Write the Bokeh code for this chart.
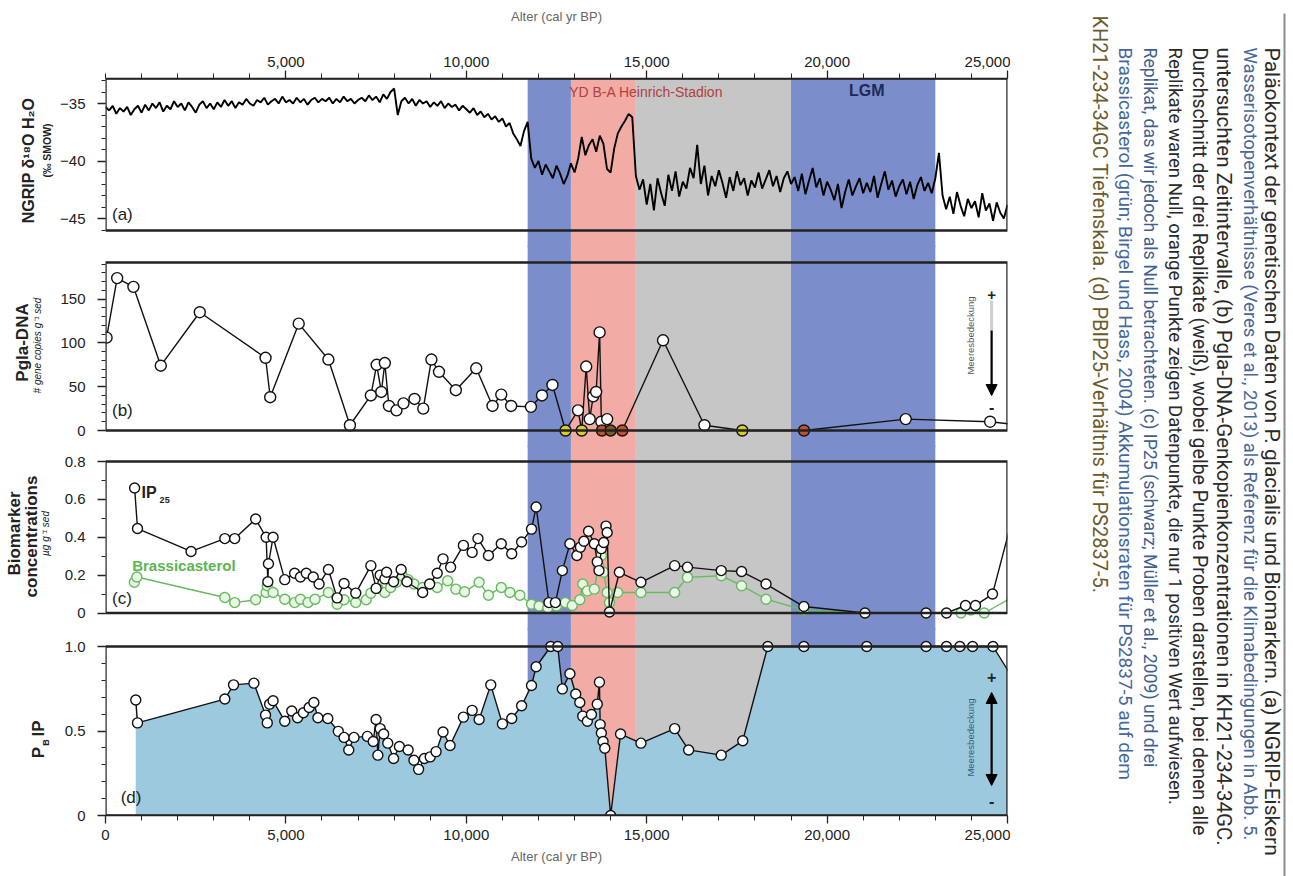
import math
from bokeh.plotting import figure
from bokeh.layouts import column, row
from bokeh.models import (Range1d, Label, FixedTicker, NumeralTickFormatter,
                          CustomJSTickFormatter, Arrow, NormalHead, ColumnDataSource)
from bokeh.embed import file_html
from bokeh.resources import INLINE

# ---------------- data ----------------
band_start = [11700, 12900, 14700, 19000]
band_end = [12900, 14700, 19000, 23000]
band_color = ["#7b8ecb", "#f2aca5", "#c6c6c6", "#7b8ecb"]

# NGRIP d18O, 100-yr steps from 0 to 25000 yr BP
ngrip_d18o = [
    -35.3, -35.6, -35.2, -35.9, -35.4, -35.7, -35.3, -36.0, -35.5, -35.2, -35.8,
    -35.1, -35.6, -35.0, -35.4, -34.9, -35.7, -35.2, -35.5, -34.8, -35.3,
    -35.0, -35.6, -34.9, -35.3, -35.8, -35.1, -34.8, -35.4, -35.0, -35.5,
    -34.9, -35.3, -34.7, -35.2, -34.8, -35.4, -34.9, -35.1, -34.6, -35.0,
    -35.2, -34.7, -34.9, -34.5, -35.1, -34.8, -34.6, -35.0, -34.4, -34.9,
    -34.7, -35.0, -34.5, -34.9, -34.6, -35.1, -34.7, -34.5, -34.9, -34.6,
    -34.8, -34.5, -35.0, -34.6, -34.9, -34.4, -34.8, -34.6, -35.0, -34.7,
    -34.5, -34.8, -34.3, -34.7, -34.4, -34.9, -34.2, -34.6, -34.0, -33.7,
    -36.0, -34.8, -34.5, -35.0, -34.6, -35.2, -34.7, -35.0, -34.8, -35.3,
    -34.9, -35.2, -34.8, -35.4, -35.0, -35.3, -35.1, -35.6, -35.2, -35.5,
    -35.8, -35.4, -36.0, -35.7, -36.2, -35.9, -36.4, -36.1, -36.6, -36.3,
    -37.0, -36.7, -37.6, -38.1, -38.7, -37.4, -36.6, -39.8, -40.6, -40.0,
    -41.2, -40.3, -40.9, -41.5, -40.4, -41.1, -42.0, -41.3, -40.2, -41.0,
    -39.8, -37.9, -39.5, -38.6, -38.1, -39.2, -37.8, -38.5, -40.7, -41.0,
    -38.9, -37.6, -37.0, -36.5, -35.9, -36.2, -41.3, -42.5, -41.6, -43.8,
    -42.0, -44.3, -41.5, -42.8, -43.9, -41.2, -42.6, -40.9, -43.1, -41.8,
    -42.4, -40.6, -41.5, -38.6, -42.0, -40.4, -43.0, -41.3, -42.2, -40.8,
    -41.9, -43.2, -41.4, -42.6, -40.9, -42.1, -41.5, -43.0, -41.7, -42.3,
    -41.0, -42.4, -41.6, -40.8, -42.2, -41.3, -42.7, -41.5, -40.9, -42.0,
    -41.4, -42.6, -41.1, -42.9, -41.7, -40.6, -42.3, -41.5, -43.0, -41.8,
    -42.5, -43.4, -42.0, -44.1, -42.7, -41.6, -43.0, -42.2, -41.5, -42.8,
    -41.9, -42.7, -41.3, -43.2, -42.0, -40.9, -42.5, -41.7, -43.1, -42.2,
    -41.6, -42.9, -41.8, -43.3, -42.1, -41.4, -42.6, -41.9, -42.8, -41.5,
    -39.3, -43.0, -44.2, -43.1, -44.6, -42.7, -43.9, -44.8, -43.3, -44.1,
    -43.5, -44.9, -42.8, -44.3, -43.7, -45.2, -43.6, -44.5, -45.0, -43.8,
]
ngrip_age = [i * 100 for i in range(len(ngrip_d18o))]

# Pgla-DNA (gene copies per g sed); kind: w = white mean, y = all zero, o = one positive, d = dark
dna_age = [30, 323, 774, 1532, 2613, 4436, 4565, 5355, 6178, 6775, 7355, 7516, 7645,
           7742, 7855, 8065, 8259, 8565, 8807, 9033, 9243, 9710, 10275, 10727, 10969,
           11243, 11791, 12098, 12388, 12750, 13097, 13200, 13323, 13420, 13517, 13598,
           13695, 13743, 13760, 13904, 14000, 14323, 15453, 16600, 17650, 19360, 22179,
           24518, 25400]
dna_val = [106, 174, 164, 74, 135, 83, 38, 122, 81, 6, 40, 75, 44,
           77, 28, 23, 31, 36, 25, 81, 67, 46, 71, 28, 41,
           28, 27, 40, 52, 0, 23, 0, 73, 13, 39, 44,
           112, 10, 0, 13, 0, 0, 103, 6, 0, 0, 13,
           10, 6]
dna_kind = ["w", "w", "w", "w", "w", "w", "w", "w", "w", "w", "w", "w", "w",
            "w", "w", "w", "w", "w", "w", "w", "w", "w", "w", "w", "w",
            "w", "w", "w", "w", "y", "w", "y", "w", "w", "w", "w",
            "w", "w", "o", "w", "d", "o", "w", "w", "y", "o", "w",
            "w", "w"]
kind_color = {"w": "#ffffff", "y": "#d8cd2c", "o": "#c0532e", "d": "#7a5a26"}

# IP25 (black) and brassicasterol (green), ug/g sed
ip25_age = [807, 887, 2371, 3307, 3581, 4162, 4452, 4500, 4516, 4645, 4968, 5242, 5403,
            5565, 5758, 5920, 6178, 6420, 6613, 6936, 7355, 7500, 7613, 7742, 7790,
            7984, 8194, 8355, 8791, 8984, 9194, 9355, 9565, 9920, 10162, 10323, 10614,
            10969, 11259, 11533, 11807, 11936, 12291, 12469, 12662, 12872, 13065, 13162,
            13259, 13388, 13549, 13630, 13678, 13743, 13807, 13872, 13904, 13968, 14243,
            14840, 15775, 16130, 17066, 17630, 18307, 19356, 21050, 22743, 23308, 23836,
            24113, 24584, 25300]
ip25_val = [0.66, 0.446, 0.325, 0.393, 0.393, 0.496, 0.40, 0.165, 0.26, 0.40, 0.176, 0.21, 0.19,
            0.21, 0.19, 0.153, 0.23, 0.08, 0.156, 0.105, 0.25, 0.13, 0.20, 0.18, 0.215,
            0.165, 0.23, 0.165, 0.108, 0.153, 0.21, 0.286, 0.242, 0.357, 0.32, 0.393, 0.304,
            0.366, 0.313, 0.375, 0.443, 0.56, 0.055, 0.055, 0.224, 0.366, 0.304, 0.348,
            0.379, 0.432, 0.366, 0.27, 0.224, 0.34, 0.372, 0.459, 0.425, 0.005, 0.215,
            0.162, 0.25, 0.242, 0.224, 0.219, 0.153, 0.034, 0.0, 0.0, 0.0, 0.04,
            0.04, 0.10, 0.62]
brass_age = [800, 870, 3307, 3581, 4162, 4452, 4484, 4645, 4968, 5242, 5403, 5613, 5807,
             6178, 6420, 6613, 6936, 7226, 7355, 7549, 7742, 7903, 8065, 8226, 8388, 8549,
             8791, 9000, 9194, 9484, 9710, 9952, 10355, 10614, 10969, 11210, 11485, 11807,
             12017, 12259, 12501, 12743, 12936, 13146, 13227, 13355, 13549, 13662, 13743,
             13807, 13904, 13968, 14194, 14840, 15775, 16130, 17066, 17630, 18307, 19356,
             21050, 22743, 23711, 23985, 24356, 25300]
brass_val = [0.162, 0.19, 0.082, 0.055, 0.07, 0.108, 0.144, 0.108, 0.073, 0.055, 0.073, 0.055, 0.073,
             0.108, 0.046, 0.07, 0.055, 0.07, 0.105, 0.13, 0.108, 0.135, 0.162, 0.197, 0.176, 0.153,
             0.135, 0.153, 0.135, 0.17, 0.126, 0.112, 0.162, 0.094, 0.135, 0.108, 0.094, 0.046,
             0.037, 0.028, 0.037, 0.055, 0.04, 0.07, 0.153, 0.117, 0.126, 0.25, 0.304,
             0.215, 0.108, 0.055, 0.108, 0.108, 0.108, 0.188, 0.197, 0.144, 0.073, 0.016,
             0.0, 0.0, 0.0, 0.016, 0.0, 0.10]

# PBIP25 index
pbip_age = [839, 887, 3307, 3549, 4113, 4436, 4484, 4549, 4645, 4968, 5162, 5323, 5484,
            5645, 5775, 5887, 6162, 6452, 6613, 6742, 6887, 7259, 7420, 7500, 7549, 7613,
            7710, 7823, 7984, 8146, 8388, 8549, 8678, 8839, 9000, 9162, 9355, 9549, 9920,
            10162, 10355, 10678, 11001, 11259, 11533, 11807, 11936, 12340, 12533, 12662,
            12872, 13033, 13146, 13227, 13355, 13468, 13630, 13690, 13710, 13743, 13791,
            13839, 14001, 14275, 14840, 15775, 16162, 17066, 17662, 18356, 19356, 21098,
            22743, 23308, 23679, 24033, 24598, 25300]
pbip_val = [0.683, 0.548, 0.689, 0.773, 0.783, 0.594, 0.548, 0.659, 0.679, 0.558, 0.618, 0.578, 0.608,
            0.639, 0.669, 0.578, 0.574, 0.498, 0.462, 0.388, 0.462, 0.468, 0.438, 0.568, 0.357, 0.514,
            0.482, 0.428, 0.337, 0.408, 0.388, 0.327, 0.273, 0.337, 0.347, 0.378, 0.494, 0.414, 0.582,
            0.622, 0.568, 0.773, 0.542, 0.574, 0.649, 0.769, 0.880, 1.0, 1.0, 0.749,
            0.839, 0.719, 0.669, 0.588, 0.558, 0.598, 0.659, 0.789, 0.538, 0.488, 0.438,
            0.398, 0.0, 0.482, 0.428, 0.514, 0.388, 0.357, 0.442, 1.0, 1.0, 1.0,
            1.0, 1.0, 1.0, 1.0, 1.0, 0.76]

x_major_top = [5000, 10000, 15000, 20000, 25000]
x_major_bottom = [0, 5000, 10000, 15000, 20000, 25000]
x_minor = [1000 * i for i in range(26)]

caption_lines = [
    "Paläokontext der genetischen Daten von P. glacialis und Biomarkern. (a) NGRIP-Eiskern",
    "Wasserisotopenverhältnisse (Veres et al., 2013) als Referenz für die Klimabedingungen in Abb. 5.",
    "untersuchten Zeitintervalle, (b) Pgla-DNA-Genkopienkonzentrationen in KH21-234-34GC.",
    "Durchschnitt der drei Replikate (weiß), wobei gelbe Punkte Proben darstellen, bei denen alle",
    "Replikate waren Null, orange Punkte zeigen Datenpunkte, die nur 1 positiven Wert aufwiesen.",
    "Replikat, das wir jedoch als Null betrachteten. (c) IP25 (schwarz; Müller et al., 2009) und drei",
    "Brassicasterol (grün; Birgel und Hass, 2004) Akkumulationsraten für PS2837-5 auf dem",
    "KH21-234-34GC Tiefenskala. (d) PBIP25-Verhältnis für PS2837-5.",
]

# ---------------- layout helpers ----------------
FONT = "Liberation Sans"
TITLE_W = 55          # width of the left column that carries the y-axis titles
LEFT = 105            # page x of the plot frames' left edge
RIGHT_PX = 1007       # page x of the plot frames' right edge
FIG_R = 1010          # page x where the caption column begins
XMAX = 25000
OV = 2                # vertical overlap of stacked panels (hides seams in the bands)


def lin(py, p0, v0, p1, v1):
    return v0 + (py - p0) * (v1 - v0) / (p1 - p0)


ya = lambda py: lin(py, 103, -35, 218, -45)
yb = lambda py: lin(py, 430, 0, 298.6, 150)
yc = lambda py: lin(py, 612.5, 0, 461, 0.8)
yd = lambda py: lin(py, 815, 0, 646, 1.0)

xr = Range1d(0, XMAX)


def make_panel(f_top, f_bot, yfun, top_b, bot_b, xloc, first=False):
    p = figure(width=FIG_R - TITLE_W, height=(f_bot - f_top) + top_b + bot_b,
               x_range=xr, y_range=Range1d(yfun(f_bot), yfun(f_top)),
               output_backend="svg", toolbar_location=None,
               min_border_left=LEFT - TITLE_W, min_border_right=FIG_R - RIGHT_PX,
               min_border_top=top_b, min_border_bottom=bot_b,
               x_axis_location=xloc, y_axis_location="left")
    if not first:
        p.margin = (-OV, 0, 0, 0)
    p.xgrid.visible = False
    p.ygrid.visible = False
    p.outline_line_color = None
    p.background_fill_alpha = 0
    p.border_fill_alpha = 0
    return p


def style_y(p, majors, minors, fmt=None):
    ax = p.yaxis[0]
    ax.ticker = FixedTicker(ticks=majors, minor_ticks=minors)
    ax.axis_line_color = None
    ax.major_tick_out = 8
    ax.major_tick_in = 0
    ax.minor_tick_out = 4
    ax.minor_tick_in = 0
    ax.major_tick_line_color = "#222222"
    ax.minor_tick_line_color = "#222222"
    ax.major_tick_line_width = 1.3
    ax.major_label_text_font = FONT
    ax.major_label_text_font_size = "15px"
    ax.major_label_text_color = "#222222"
    ax.major_label_standoff = 12
    if fmt is not None:
        ax.formatter = fmt


def style_x(ax, majors, fmt):
    ax.ticker = FixedTicker(ticks=majors, minor_ticks=x_minor)
    ax.formatter = fmt
    ax.axis_line_width = 1.6
    ax.axis_line_color = "#222222"
    ax.major_tick_out = 8
    ax.major_tick_in = 0
    ax.minor_tick_out = 5
    ax.minor_tick_in = 0
    ax.major_tick_line_color = "#222222"
    ax.minor_tick_line_color = "#222222"
    ax.major_tick_line_width = 1.3
    ax.major_label_text_font = FONT
    ax.major_label_text_font_size = "15px"
    ax.major_label_text_color = "#222222"
    ax.axis_label = "Alter (cal yr BP)"
    ax.axis_label_text_font = FONT
    ax.axis_label_text_font_size = "13px"
    ax.axis_label_text_font_style = "normal"
    ax.axis_label_text_color = "#666666"


def bands(p):
    span = p.y_range.end - p.y_range.start
    p.quad(left=band_start, right=band_end, bottom=p.y_range.start - span,
           top=p.y_range.end + span, fill_color=band_color, line_color=None)


def box(p, b0, b1):
    p.quad(left=[0], right=[XMAX], bottom=[b0], top=[b1], fill_color=None,
           line_color="#222222", line_width=2.4)


def lab(p, x, y, text, size="16px", color="#222222", style="normal", angle=0.0,
        align="left", baseline="middle", font=FONT):
    p.add_layout(Label(x=x, y=y, text=text, text_font_size=size, text_color=color,
                       text_font_style=style, angle=angle, text_align=align,
                       text_baseline=baseline, text_font=font))


num_fmt = NumeralTickFormatter(format="0,0")
dec_fmt = CustomJSTickFormatter(code="return tick == 0 ? '0' : tick.toFixed(1);")

# ---------------- panel (a) ----------------
fa = make_panel(78, 246 + OV // 2, ya, 78, 0, "above", first=True)
style_x(fa.xaxis[0], x_major_top, num_fmt)
fa.xaxis[0].major_label_standoff = 4
fa.xaxis[0].axis_label_standoff = 30
style_y(fa, [-45, -40, -35], list(range(-46, -32)))
bands(fa)
fa.line(ngrip_age, ngrip_d18o, line_color="black", line_width=1.9)
box(fa, ya(230), ya(78))
lab(fa, 12850, ya(91), "YD B-A Heinrich-Stadion", size="14px", color="#b0403c")
lab(fa, 21100, ya(90), "LGM", size="16px", color="#1d2a55", style="bold", align="center")
lab(fa, 180, ya(214), "(a)", size="17px")

# ---------------- panel (b) ----------------
fb = make_panel(246 - OV // 2, 446 + OV // 2, yb, 0, 0, None)
style_y(fb, [0, 50, 100, 150], list(range(0, 200, 10)))
bands(fb)
dna_src = ColumnDataSource(dict(x=dna_age, y=dna_val,
                                c=[kind_color[k] for k in dna_kind]))
fb.line("x", "y", source=dna_src, line_color="#111111", line_width=1.4)
fb.scatter("x", "y", source=dna_src, size=11, fill_color="c", line_color="#111111",
           line_width=1.4)
box(fb, 0, yb(262))
lab(fb, 180, yb(410), "(b)", size="17px")
fb.segment(x0=[24560], y0=[yb(300)], x1=[24560], y1=[yb(330)], line_color="#cfcfcf",
           line_width=3)
fb.add_layout(Arrow(end=NormalHead(size=11, fill_color="black", line_color="black"),
                    x_start=24560, y_start=yb(330), x_end=24560, y_end=yb(395),
                    line_width=2.2, line_color="black"))
lab(fb, 24560, yb(294), "+", size="15px", style="bold", align="center")
lab(fb, 24560, yb(406), "-", size="16px", style="bold", align="center")
lab(fb, 23980, yb(335), "Meeresbedeckung", size="9.5px", color="#555555",
    angle=math.pi / 2, align="center")

# ---------------- panel (c) ----------------
fc = make_panel(446 - OV // 2, 629 + OV // 2, yc, 0, 0, None)
style_y(fc, [0, 0.2, 0.4, 0.6, 0.8], [i / 10 for i in range(9)], dec_fmt)
bands(fc)
fc.line(brass_age, brass_val, line_color="#66bb5f", line_width=1.4)
fc.scatter(brass_age, brass_val, size=10, fill_color="#eaf6e6", line_color="#66bb5f",
           line_width=1.4)
fc.line(ip25_age, ip25_val, line_color="#111111", line_width=1.4)
fc.scatter(ip25_age, ip25_val, size=10, fill_color="white", line_color="#111111",
           line_width=1.4)
box(fc, 0, 0.8)
lab(fc, 180, yc(598), "(c)", size="17px")
lab(fc, 1000, yc(492), "IP", size="16px", style="bold")
lab(fc, 1500, yc(499), "25", size="9px", style="bold", align="left")
lab(fc, 740, yc(565), "Brassicasterol", size="15px", color="#5bb552", style="bold")

# ---------------- panel (d) ----------------
fd = make_panel(629 - OV // 2, 815, yd, 0, 61, "below")
style_x(fd.xaxis[0], x_major_bottom, num_fmt)
fd.xaxis[0].major_label_standoff = 6
fd.xaxis[0].axis_label_standoff = 6
style_y(fd, [0, 0.5, 1.0], [i / 10 for i in range(11)], dec_fmt)
bands(fd)
fd.varea(x=pbip_age, y1=0, y2=pbip_val, fill_color="#9cc9dd")
fd.line(pbip_age, pbip_val, line_color="#111111", line_width=1.4)
fd.scatter(pbip_age, pbip_val, size=10, fill_color="white", line_color="#111111",
           line_width=1.4)
box(fd, 0, 1.0)
lab(fd, 420, yd(797), "(d)", size="17px")
fd.add_layout(Arrow(start=NormalHead(size=11, fill_color="black", line_color="black"),
                    end=NormalHead(size=11, fill_color="black", line_color="black"),
                    x_start=24560, y_start=yd(692), x_end=24560, y_end=yd(785),
                    line_width=2.2, line_color="black"))
lab(fd, 24560, yd(676), "+", size="16px", style="bold", align="center")
lab(fd, 24560, yd(800), "-", size="16px", style="bold", align="center")
lab(fd, 23980, yd(737), "Meeresbedeckung", size="9.5px", color="#33617a",
    angle=math.pi / 2, align="center")


# ---------------- left column: y-axis titles ----------------
def blank(width, x0, x1):
    p = figure(width=width, height=876, x_range=Range1d(x0, x1), y_range=Range1d(876, 0),
               output_backend="svg", toolbar_location=None, min_border=0,
               x_axis_location=None, y_axis_location=None)
    p.outline_line_color = None
    p.grid.visible = False
    p.background_fill_color = "white"
    p.border_fill_color = "white"
    return p


fl = blank(TITLE_W, 0, TITLE_W)
up = math.pi / 2
lab(fl, 28, 160, "NGRIP δ¹⁸O H₂O", size="16px", style="bold", angle=up, align="center")
lab(fl, 46, 150, "(‰ SMOW)", size="10.5px", style="bold", angle=up, align="center")
lab(fl, 22, 342, "Pgla-DNA", size="17px", style="bold", angle=up, align="center")
lab(fl, 37, 345, "# gene copies g⁻¹ sed", size="10px", style="italic", angle=up,
    align="center")
lab(fl, 14, 533, "Biomarker", size="17px", style="bold", angle=up, align="center")
lab(fl, 31, 536, "concentrations", size="17px", style="bold", angle=up, align="center")
lab(fl, 45, 533, "µg g⁻¹ sed", size="10px", style="italic", angle=up, align="center")
lab(fl, 38, 752, "P", size="17px", style="bold", angle=up, align="center")
lab(fl, 45, 742, "B", size="9px", style="bold", angle=up, align="center")
lab(fl, 38, 728, "IP", size="17px", style="bold", angle=up, align="center")

# ---------------- caption column ----------------
ft = blank(1293 - FIG_R, FIG_R, 1293)
ft.segment(x0=[1284], y0=[13], x1=[1284], y1=[876], line_color="#8c8c8c", line_width=2)
cap_x = [1271, 1249, 1223, 1199, 1174, 1149, 1125, 1099]
cap_y = [47, 47, 47, 47, 47, 47, 47, 15]
cap_size = ["21px", "18.5px", "20.5px", "19.5px", "18.5px", "17.7px", "19px", "20px"]
cap_color = ["#2a2a2a", "#46679a", "#2a2a2a", "#2a2a2a", "#2a2a2a", "#3f5f92", "#46679a",
             "#6a5a2c"]
for t, cx, cy, cs, cc in zip(caption_lines, cap_x, cap_y, cap_size, cap_color):
    ft.add_layout(Label(x=cx, y=cy, text=t, angle=-math.pi / 2, text_align="left",
                        text_baseline="middle", text_font="Roboto", text_font_size=cs,
                        text_color=cc))

layout = row(fl, column(fa, fb, fc, fd, spacing=0), ft, spacing=0)
with open("out.html", "w") as f:
    f.write(file_html(layout, INLINE))
